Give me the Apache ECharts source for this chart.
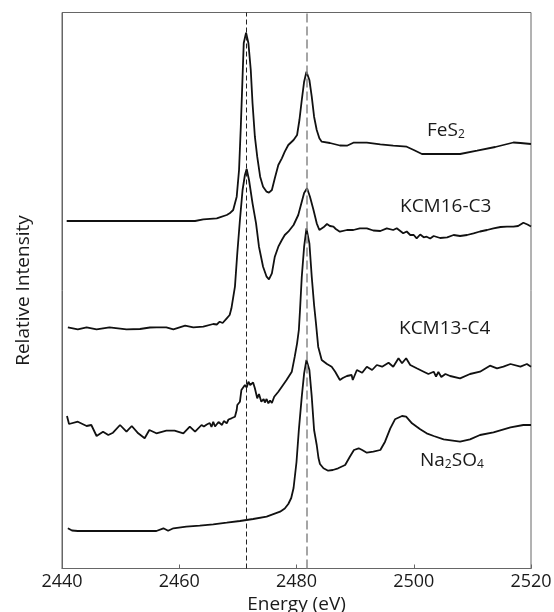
<!DOCTYPE html>
<html>
<head>
<meta charset="utf-8">
<script src="https://cdn.jsdelivr.net/npm/echarts@6/dist/echarts.min.js"></script>
<style>
  html, body { margin: 0; padding: 0; background: #fff; }
  #chart { width: 554px; height: 612px; }
</style>
</head>
<body>
<div id="chart"></div>
<script>
// x: energy (eV), y: offset relative intensity (arbitrary units)
const xTicks = [2440, 2460, 2480, 2500, 2520];
const edgeLines = [2471.5, 2481.7];

const fes2 = [
  [2440.8, 347.5], [2462.7, 347.5], [2464.1, 349.2], [2466.4, 350.2], [2466.9, 351.2],
  [2468.1, 353.5], [2468.6, 355.2], [2469.2, 358.5], [2469.8, 371.8], [2470.2, 398.5],
  [2470.5, 441.8], [2470.8, 491.8], [2471.0, 525.5], [2471.4, 535.8], [2471.8, 525.2],
  [2472.2, 498.5], [2472.5, 465.2], [2472.9, 431.8], [2473.3, 411.8], [2473.8, 391.8],
  [2474.3, 381.8], [2474.9, 376.8], [2475.3, 375.8], [2475.8, 378.5], [2476.3, 390.2],
  [2476.9, 403.5], [2477.5, 410.2], [2478.0, 416.8], [2478.6, 423.5], [2479.5, 428.5],
  [2480.1, 433.5], [2480.5, 448.5], [2480.9, 468.5], [2481.3, 486.8], [2481.7, 496.8],
  [2482.2, 488.5], [2482.6, 471.8], [2483.0, 451.8], [2483.45, 438.5], [2483.9, 430.2],
  [2484.3, 426.8], [2485.7, 425.5], [2487.4, 423.0], [2488.6, 422.8], [2489.7, 425.8],
  [2492.0, 425.8], [2494.3, 424.2], [2496.5, 422.8], [2498.8, 421.8], [2500.0, 418.5],
  [2501.4, 414.5], [2507.9, 414.5], [2510.8, 417.8], [2513.9, 421.5], [2517.0, 426.0],
  [2518.2, 425.5], [2520.0, 424.5]
];

const kcm16 = [
  [2441.0, 241.2], [2442.7, 239.2], [2444.2, 241.2], [2445.9, 239.2], [2448.1, 241.2],
  [2451.0, 239.2], [2453.3, 239.5], [2455.0, 241.0], [2456.1, 241.2], [2457.8, 241.2],
  [2459.0, 239.2], [2461.0, 242.8], [2462.4, 241.2], [2464.1, 241.8], [2465.8, 244.5],
  [2466.4, 244.0], [2466.9, 246.8], [2467.4, 245.5], [2468.1, 250.2], [2468.6, 253.5],
  [2468.9, 260.2], [2469.2, 261.8], [2469.5, 281.8], [2469.9, 315.2], [2470.35, 348.5],
  [2470.8, 378.5], [2471.2, 393.5], [2471.5, 399.5], [2471.9, 388.5], [2472.5, 365.2],
  [2473.1, 345.2], [2473.6, 321.8], [2474.3, 301.8], [2474.9, 291.8], [2475.3, 289.2],
  [2475.8, 295.2], [2476.3, 311.8], [2476.9, 321.8], [2477.5, 328.5], [2477.8, 327.5],
  [2478.0, 333.5], [2478.6, 336.8], [2478.9, 336.0], [2479.5, 343.5], [2479.8, 345.5],
  [2480.3, 353.5], [2480.9, 366.8], [2481.3, 375.5], [2481.8, 380.2], [2482.3, 371.8],
  [2482.9, 358.5], [2483.45, 345.2], [2483.9, 338.5], [2484.2, 340.5], [2484.6, 341.2],
  [2485.2, 344.5], [2485.4, 345.2], [2485.7, 342.5], [2486.3, 341.8], [2486.7, 339.5],
  [2487.4, 336.8], [2488.6, 338.5], [2489.7, 338.5], [2490.8, 340.2], [2492.0, 340.2],
  [2493.1, 338.0], [2494.3, 337.5], [2495.4, 340.2], [2496.5, 338.5], [2497.1, 340.2],
  [2498.2, 335.2], [2498.8, 337.0], [2499.4, 333.5], [2500.0, 333.5], [2500.5, 330.2],
  [2501.1, 334.0], [2501.7, 331.2], [2502.2, 331.8], [2502.8, 330.0], [2503.4, 332.5],
  [2504.5, 330.5], [2505.7, 331.2], [2506.8, 333.5], [2507.9, 332.5], [2509.1, 333.5],
  [2510.2, 335.2], [2511.3, 337.0], [2512.5, 338.5], [2513.6, 340.2], [2514.8, 341.5],
  [2515.9, 341.8], [2517.0, 341.8], [2517.8, 342.5], [2518.7, 345.8], [2519.4, 344.0],
  [2520.0, 342.0]
];

const kcm13 = [
  [2440.85, 152.5], [2441.2, 144.5], [2442.7, 146.8], [2444.2, 142.5], [2445.0, 143.5],
  [2445.9, 132.5], [2447.0, 136.8], [2447.9, 133.5], [2448.7, 135.8], [2449.9, 143.5],
  [2451.0, 136.8], [2451.9, 142.5], [2453.0, 135.2], [2454.1, 130.2], [2454.9, 138.5],
  [2456.1, 135.2], [2457.8, 137.8], [2459.2, 137.8], [2460.7, 135.2], [2461.8, 141.8],
  [2462.7, 136.8], [2463.8, 143.5], [2464.2, 142.0], [2464.7, 144.0], [2465.2, 145.5],
  [2465.5, 141.5], [2465.8, 146.8], [2466.1, 142.0], [2466.4, 141.8], [2466.7, 146.5],
  [2466.9, 146.8], [2467.3, 143.5], [2467.6, 147.5], [2468.1, 145.2], [2468.4, 149.0],
  [2468.6, 147.5], [2468.9, 150.2], [2469.2, 148.5], [2469.5, 151.8], [2469.8, 158.5],
  [2469.9, 163.5], [2470.1, 162.5], [2470.35, 166.8], [2470.6, 178.5], [2470.9, 177.0],
  [2471.2, 183.5], [2471.5, 181.0], [2471.8, 186.8], [2472.1, 183.5], [2472.3, 183.5],
  [2472.6, 186.0], [2472.9, 180.2], [2473.3, 170.2], [2473.6, 174.5], [2474.0, 166.8],
  [2474.4, 169.5], [2474.6, 166.0], [2474.9, 169.5], [2475.2, 165.2], [2475.5, 168.0],
  [2475.8, 165.5], [2476.2, 171.8], [2476.9, 176.8], [2477.5, 181.8], [2478.3, 188.5],
  [2479.2, 196.8], [2479.7, 211.8], [2480.1, 225.2], [2480.4, 238.5], [2480.6, 258.5],
  [2480.9, 291.8], [2481.3, 321.8], [2481.7, 340.2], [2482.2, 325.2], [2482.6, 291.8],
  [2483.0, 263.5], [2483.3, 246.5], [2483.7, 221.8], [2484.3, 208.5], [2485.2, 204.5],
  [2486.0, 201.8], [2486.6, 196.8], [2487.4, 188.5], [2487.9, 190.5], [2488.6, 192.5],
  [2489.4, 193.5], [2489.6, 188.5], [2490.3, 198.5], [2491.2, 195.8], [2492.0, 201.8],
  [2492.9, 198.5], [2493.7, 203.5], [2494.6, 201.8], [2495.7, 205.8], [2496.5, 201.8],
  [2497.4, 210.2], [2498.0, 205.2], [2498.7, 210.2], [2499.4, 203.5], [2500.5, 200.2],
  [2501.7, 196.8], [2502.5, 194.5], [2503.4, 196.8], [2503.8, 192.0], [2504.2, 196.5],
  [2504.7, 191.5], [2505.4, 194.5], [2506.2, 192.5], [2507.9, 190.2], [2509.6, 194.5],
  [2511.3, 196.8], [2513.0, 202.8], [2514.2, 200.2], [2515.3, 201.8], [2516.5, 204.5],
  [2518.2, 201.8], [2519.3, 204.5], [2520.0, 201.8]
];

const na2so4 = [
  [2441.0, 40.2], [2441.7, 38.0], [2442.7, 37.5], [2456.1, 37.5], [2457.3, 40.2],
  [2458.1, 37.8], [2459.0, 40.2], [2461.2, 41.8], [2463.5, 42.8], [2465.8, 44.2],
  [2468.1, 45.8], [2470.35, 47.5], [2472.6, 49.5], [2474.9, 51.8], [2477.2, 56.8],
  [2478.0, 60.0], [2478.6, 64.5], [2479.1, 70.5], [2479.5, 80.5], [2480.0, 106.5],
  [2480.4, 138.5], [2480.9, 171.8], [2481.3, 195.2], [2481.7, 208.5], [2482.2, 198.5],
  [2482.6, 171.8], [2483.0, 138.5], [2483.45, 123.5], [2483.75, 110.5], [2484.0, 104.5],
  [2484.6, 100.2], [2485.4, 97.8], [2486.2, 98.5], [2487.1, 100.2], [2488.3, 103.5],
  [2489.1, 111.8], [2489.8, 118.5], [2490.6, 120.2], [2491.2, 118.5], [2492.0, 115.8],
  [2493.1, 116.8], [2494.3, 118.5], [2495.1, 126.8], [2496.0, 140.2], [2496.8, 149.2],
  [2498.0, 152.5], [2498.7, 151.8], [2499.7, 145.2], [2501.1, 139.2], [2502.2, 135.2],
  [2503.4, 132.5], [2505.1, 129.2], [2507.9, 126.8], [2509.6, 129.2], [2511.3, 133.5],
  [2513.6, 136.2], [2516.5, 141.2], [2518.7, 143.5], [2520.0, 143.5]
];

const FONT = '"Open Sans", "DejaVu Sans", sans-serif';
const chart = echarts.init(document.getElementById('chart'), null, { renderer: 'canvas' });

const lineSeries = (name, data) => ({
  name: name,
  type: 'line',
  data: data,
  showSymbol: false,
  symbol: 'none',
  smooth: false,
  silent: true,
  lineStyle: { color: '#111', width: 1.8 }
});

const labelText = (x, y, text) => ({
  type: 'text',
  left: x,
  top: y,
  silent: true,
  style: {
    text: text,
    fill: '#1a1a1a',
    font: '19px ' + FONT,
    rich: {
      sub: { fontSize: 12, fontFamily: FONT, fill: '#1a1a1a', verticalAlign: 'bottom', padding: [9, 0, 0, 0] },
      n: { fontSize: 19, fontFamily: FONT, fill: '#1a1a1a' }
    }
  }
});

const option = {
  animation: false,
  backgroundColor: '#fff',
  grid: {
    left: 62, right: 23, top: 12.5, bottom: 43.5,
    outerBoundsMode: 'none',
    containLabel: false,
    show: true, borderColor: '#666', borderWidth: 1
  },
  xAxis: {
    type: 'value',
    min: 2440, max: 2520, interval: 20,
    name: 'Energy (eV)',
    nameLocation: 'middle',
    nameGap: 21,
    nameTextStyle: { fontFamily: FONT, fontSize: 19, color: '#1a1a1a' },
    axisLine: { show: true, lineStyle: { color: '#666', width: 1 } },
    axisTick: { show: true, inside: true, length: 4, lineStyle: { color: '#666' } },
    axisLabel: {
      fontFamily: FONT, fontSize: 18, color: '#1a1a1a', margin: 4,
      formatter: function (v) { return xTicks.indexOf(v) >= 0 ? String(v) : ''; }
    },
    splitLine: { show: false }
  },
  yAxis: {
    type: 'value',
    min: 0, max: 556,
    name: 'Relative Intensity',
    nameLocation: 'middle',
    nameGap: 29,
    nameTextStyle: { fontFamily: FONT, fontSize: 19, color: '#1a1a1a' },
    axisLine: { show: true, lineStyle: { color: '#666', width: 1 } },
    axisTick: { show: false },
    axisLabel: { show: false },
    splitLine: { show: false }
  },
  series: [
    Object.assign(lineSeries('FeS2', fes2), {
      markLine: {
        silent: true,
        symbol: 'none',
        label: { show: false },
        data: [
          { xAxis: edgeLines[0], lineStyle: { color: '#222', width: 1, type: [5, 3] } },
          { xAxis: edgeLines[1], lineStyle: { color: '#888', width: 1.5, type: [9, 4] } }
        ]
      }
    }),
    lineSeries('KCM16-C3', kcm16),
    lineSeries('KCM13-C4', kcm13),
    lineSeries('Na2SO4', na2so4)
  ],
  graphic: [
    labelText(427, 121, '{n|FeS}{sub|2}'),
    labelText(400, 197, '{n|KCM16-C3}'),
    labelText(399, 319, '{n|KCM13-C4}'),
    labelText(420, 451, '{n|Na}{sub|2}{n|SO}{sub|4}')
  ]
};

chart.setOption(option);
window.addEventListener('resize', function () {
  chart.resize();
});
</script>
</body>
</html>
